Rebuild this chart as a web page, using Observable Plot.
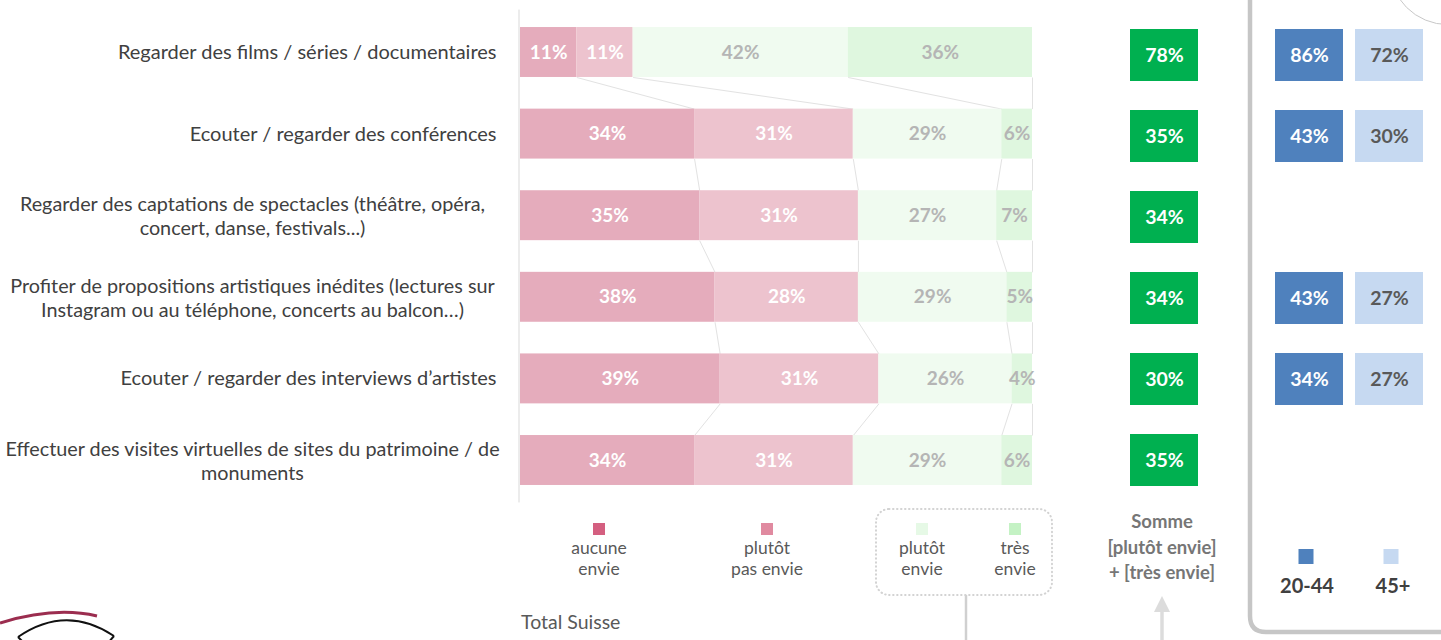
<!DOCTYPE html>
<html><head><meta charset="utf-8">
<script src="https://cdn.jsdelivr.net/npm/d3@7"></script>
<script src="https://cdn.jsdelivr.net/npm/@observablehq/plot@0.6"></script>
<style>
html,body{margin:0;padding:0;background:#fff;}
#wrap{position:relative;width:1441px;height:640px;overflow:hidden;font-family:Lato,"Open Sans",sans-serif;}
#wrap > svg, #wrap > .layer{position:absolute;left:0;top:0;}
.abs{position:absolute;white-space:nowrap;}
.c{transform:translateX(-50%);text-align:center;}
</style></head><body><div id="wrap"></div>
<script>
// ---------- data ----------
const categories = [
  "Regarder des films / séries / documentaires",
  "Ecouter / regarder des conférences",
  "Regarder des captations de spectacles (théâtre, opéra,\nconcert, danse, festivals...)",
  "Profiter de propositions artistiques inédites (lectures sur\nInstagram ou au téléphone, concerts au balcon…)",
  "Ecouter / regarder des interviews d’artistes",
  "Effectuer des visites virtuelles de sites du patrimoine / de\nmonuments"
];
const levels = ["aucune envie", "plutôt pas envie", "plutôt envie", "très envie"];
const aucuneEnvie = [11, 34, 35, 38, 39, 34];
const plutotPasEnvie = [11, 31, 31, 28, 31, 31];
const plutotEnvie = [42, 29, 27, 29, 26, 29];
const tresEnvie = [36, 6, 7, 5, 4, 6];
const somme = [78, 35, 34, 34, 30, 35];
const ageGroups = ["20-44", "45+"];
const age2044 = [86, 43, null, 43, 34, null];
const age45plus = [72, 30, null, 27, 27, null];

// ---------- styles ----------
const barColors = ["#e5acbc", "#edc3ce", "#f0fbf0", "#dff7df"];
const legendColors = ["#d45f80", "#e08aa0", "#e6f9e6", "#c4f2c4"];
const FONT = "Lato, 'Open Sans', sans-serif";

// ---------- tables ----------
const series = [aucuneEnvie, plutotPasEnvie, plutotEnvie, tresEnvie];
const rows = categories.map((c, i) => ({c, i}));
const segs = [];
const cums = categories.map((c, i) => {
  let acc = 0; const b = [];
  series.forEach((arr, k) => {
    const v = arr[i];
    segs.push({c, i, k, level: levels[k], v, x1: acc, x2: acc + v});
    acc += v; b.push(acc);
  });
  return b;
});
const H = 0.306; // half bar height in row units
const links = [];
for (let i = 0; i < categories.length - 1; i++) {
  for (let k = 0; k < 4; k++) links.push({x1: cums[i][k], y1: i + H, x2: cums[i + 1][k], y2: i + 1 - H});
}

const wrap = document.getElementById("wrap");

// ---------- main stacked bars ----------
const main = Plot.plot({
  width: 1441, height: 640, margin: 0,
  style: {fontFamily: FONT, background: "transparent"},
  x: {domain: [0, 100], range: [520, 1032], axis: null},
  y: {domain: [0, 5], range: [52, 460], axis: null},
  color: {domain: levels, range: barColors},
  marks: [
    Plot.ruleX([0], {y1: -0.52, y2: 5.52, stroke: "#d9d9d9", strokeWidth: 1, dx: -1.5}),
    Plot.link(links, {x1: "x1", y1: "y1", x2: "x2", y2: "y2", stroke: "#e2e2e2", strokeWidth: 1}),
    Plot.rect(segs, {x1: "x1", x2: "x2", y1: d => d.i - H, y2: d => d.i + H, fill: "level"}),
    Plot.text(segs.filter(d => d.k < 2), {x: d => (d.x1 + d.x2) / 2, y: "i", text: d => d.v + "%", fill: "white", fontWeight: "bold", fontSize: 19}),
    Plot.text(segs.filter(d => d.k >= 2), {x: d => (d.x1 + d.x2) / 2, y: "i", text: d => d.v + "%", fill: "#b5b5b5", fontWeight: "bold", fontSize: 19}),
    Plot.text(rows.filter(d => !d.c.includes("\n")), {x: 0, y: "i", text: "c", textAnchor: "end", dx: -24, fontSize: 20, fill: "#404040"}),
    Plot.text(rows.filter(d => d.c.includes("\n")), {x: 0, y: "i", text: "c", textAnchor: "middle", dx: -268, fontSize: 19.8, lineHeight: 1.2, fill: "#404040"})
  ]
});
wrap.appendChild(main);

// ---------- sum column ----------
const sumRows = categories.map((c, i) => ({c, v: somme[i], col: "Somme"}));
const sumPlot = Plot.plot({
  width: 1441, height: 640, margin: 0,
  style: {fontFamily: FONT, background: "transparent"},
  x: {domain: ["Somme"], range: [1130, 1198], padding: 0, axis: null},
  y: {domain: categories, range: [27, 487], paddingInner: 0.363, paddingOuter: 0, axis: null},
  marks: [
    Plot.cell(sumRows, {x: "col", y: "c", fill: "#00b050"}),
    Plot.text(sumRows, {x: "col", y: "c", text: d => d.v + "%", fill: "white", fontWeight: "bold", fontSize: 19.5})
  ]
});
wrap.appendChild(sumPlot);

// ---------- age columns ----------
const ageRows = [];
categories.forEach((c, i) => {
  if (age2044[i] != null) ageRows.push({c, g: ageGroups[0], v: age2044[i]});
  if (age45plus[i] != null) ageRows.push({c, g: ageGroups[1], v: age45plus[i]});
});
const agePlot = Plot.plot({
  width: 1441, height: 640, margin: 0,
  style: {fontFamily: FONT, background: "transparent"},
  x: {domain: ageGroups, range: [1274, 1424], paddingInner: 0.148, paddingOuter: 0, axis: null},
  y: {domain: categories, range: [27, 487], paddingInner: 0.363, paddingOuter: 0, axis: null},
  color: {domain: ageGroups, range: ["#4f81bd", "#c6d9f1"]},
  marks: [
    Plot.cell(ageRows, {x: "g", y: "c", fill: "g"}),
    Plot.text(ageRows.filter(d => d.g === ageGroups[0]), {x: "g", y: "c", text: d => d.v + "%", fill: "white", fontWeight: "bold", fontSize: 19.5}),
    Plot.text(ageRows.filter(d => d.g === ageGroups[1]), {x: "g", y: "c", text: d => d.v + "%", fill: "#595959", fontWeight: "bold", fontSize: 19.5})
  ]
});
wrap.appendChild(agePlot);

// ---------- decorations & legends (HTML/SVG overlay) ----------
const NS = "http://www.w3.org/2000/svg";
const deco = document.createElementNS(NS, "svg");
deco.setAttribute("width", 1441); deco.setAttribute("height", 640);
deco.setAttribute("class", "layer");
deco.innerHTML = `
  <rect x="876" y="509" width="176" height="86" rx="13" fill="none" stroke="#d3d3d3" stroke-width="2" stroke-dasharray="0.5 3.5" stroke-linecap="round"/>
  <line x1="966" y1="595" x2="966" y2="640" stroke="#d0d0d0" stroke-width="2.5"/>
  <polygon points="1162,596 1154,612 1170,612" fill="#dcdcdc"/>
  <line x1="1162" y1="611" x2="1162" y2="640" stroke="#dcdcdc" stroke-width="3.5"/>
  <path d="M1250,-20 V616 Q1250,632 1266,632 H1460" fill="none" stroke="#c6c6c6" stroke-width="4.5"/>
  <circle cx="1448" cy="-34" r="58.6" fill="none" stroke="#c8c8c8" stroke-width="1"/>
  <path d="M0,623 Q55,606 97,616" fill="none" stroke="#9b2d4f" stroke-width="3"/>
  <path d="M18,637 Q66,604 114,636" fill="none" stroke="#111" stroke-width="2"/>
  <line x1="18" y1="637" x2="24" y2="643" stroke="#111" stroke-width="2"/>
  <line x1="114" y1="636" x2="108" y2="643" stroke="#111" stroke-width="2"/>
`;
const legendX = [599, 767, 922, 1015];
legendX.forEach((x, k) => {
  const r = document.createElementNS(NS, "rect");
  r.setAttribute("x", x - 6); r.setAttribute("y", 523); r.setAttribute("width", 12); r.setAttribute("height", 12);
  r.setAttribute("fill", legendColors[k]);
  deco.appendChild(r);
});
[[1306, "#4f81bd"], [1391, "#c6d9f1"]].forEach(([x, col]) => {
  const r = document.createElementNS(NS, "rect");
  r.setAttribute("x", x - 7.5); r.setAttribute("y", 549); r.setAttribute("width", 15); r.setAttribute("height", 15);
  r.setAttribute("fill", col);
  deco.appendChild(r);
});
wrap.appendChild(deco);

function addText(txt, x, y, style) {
  const d = document.createElement("div");
  d.className = "abs c";
  d.textContent = txt;
  d.style.left = x + "px"; d.style.top = y + "px";
  Object.assign(d.style, style);
  wrap.appendChild(d);
}
const legendLabels = [["aucune", "envie"], ["plutôt", "pas envie"], ["plutôt", "envie"], ["très", "envie"]];
legendLabels.forEach((lines, k) => lines.forEach((t, j) =>
  addText(t, legendX[k], 537 + j * 21, {fontSize: "17.5px", lineHeight: "21px", height: "21px", color: "#595959"})));
["Somme", "[plutôt envie]", "+ [très envie]"].forEach((t, j) =>
  addText(t, 1162, 509 + j * 25.5, {fontSize: "18.5px", lineHeight: "25.5px", color: "#767676", fontWeight: "bold"}));
addText(ageGroups[0], 1307, 573, {fontSize: "20px", color: "#404040", fontWeight: "bold"});
addText(ageGroups[1], 1393, 573, {fontSize: "20px", color: "#404040", fontWeight: "bold"});
const ts = document.createElement("div");
ts.className = "abs"; ts.textContent = "Total Suisse";
Object.assign(ts.style, {left: "521px", top: "610px", fontSize: "19.5px", color: "#595959"});
wrap.appendChild(ts);
</script>
</body></html>
